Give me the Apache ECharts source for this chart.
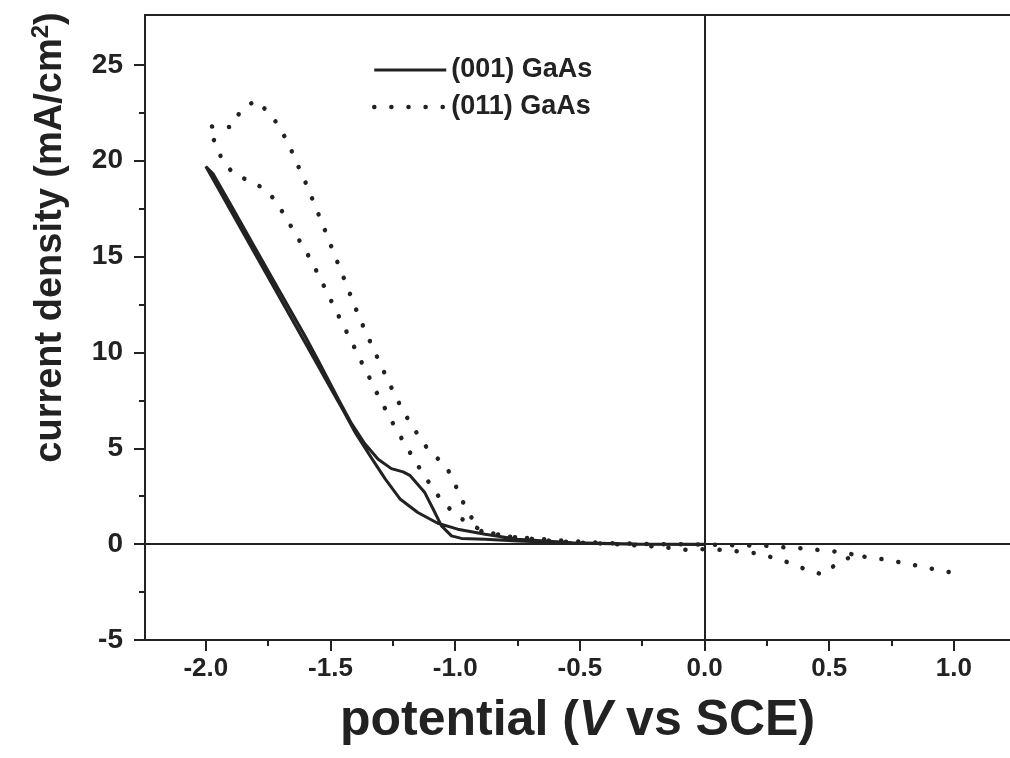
<!DOCTYPE html>
<html>
<head>
<meta charset="utf-8">
<script src="https://cdn.jsdelivr.net/npm/echarts@6/dist/echarts.min.js"></script>
<style>
  html, body { margin: 0; padding: 0; background: #ffffff; }
  #chart { width: 1010px; height: 758px; }
</style>
</head>
<body>
<div id="chart"></div>
<script>
// ---- data ----
const seriesNames = ['(001) GaAs', '(011) GaAs'];

// (001) GaAs: closed loop (smooth branch out, shoulder branch back)
const potential001 = [0.0, -0.27, -0.53, -0.75, -0.88, -0.99, -1.07, -1.15, -1.22, -1.28, -1.336, -1.40, -1.45, -1.50, -1.60, -1.70, -1.80, -1.90, -1.95, -2.0,
  -1.97, -1.90, -1.80, -1.70, -1.60, -1.55, -1.47, -1.416, -1.363, -1.309, -1.256, -1.209, -1.182, -1.122, -1.088, -1.055, -1.015, -0.975, -0.88, -0.75, -0.53, -0.27, 0.0];
const current001 = [0.0, 0.01, 0.07, 0.26, 0.52, 0.78, 1.09, 1.65, 2.34, 3.39, 4.5, 5.8, 7.0, 8.15, 10.46, 12.77, 15.08, 17.39, 18.55, 19.7,
  19.3, 17.7, 15.4, 13.1, 10.8, 9.6, 7.6, 6.3, 5.25, 4.43, 3.94, 3.77, 3.59, 2.69, 1.82, 0.95, 0.43, 0.30, 0.26, 0.17, 0.06, 0.0, -0.02];

// (011) GaAs: dotted loop
const potential011 = [0.589, 0.522, 0.454, 0.387, 0.32, 0.253, 0.1, 0.0, -0.2, -0.4, -0.62, -0.687, -0.754, -0.807, -0.881, -0.944, -1.011, -1.068, -1.116, -1.159,
  -1.20, -1.24, -1.276, -1.312, -1.345, -1.379, -1.412, -1.446, -1.479, -1.513, -1.547, -1.581, -1.621, -1.66, -1.70, -1.748, -1.815, -1.882, -1.932, -1.962,
  -1.988, -1.965, -1.898, -1.858, -1.80, -1.738, -1.695, -1.661, -1.631, -1.601, -1.573, -1.546, -1.519, -1.493, -1.466, -1.439, -1.412, -1.386, -1.356, -1.325,
  -1.294, -1.262, -1.229, -1.192, -1.149, -1.102, -1.039, -1.005, -0.977, -0.941, -0.894, -0.814, -0.755, -0.68, -0.614, -0.5, -0.4, -0.3, -0.205, -0.138,
  -0.071, -0.004, 0.066, 0.135, 0.205, 0.272, 0.339, 0.406, 0.473, 0.541, 0.598, 0.665, 0.736, 0.806, 0.866, 0.933, 0.996];
const current011 = [-0.52, -0.38, -0.3, -0.22, -0.17, -0.09, -0.05, -0.02, 0.0, 0.06, 0.23, 0.30, 0.35, 0.43, 0.66, 1.04, 1.68, 2.52, 3.42, 4.29,
  5.19, 6.06, 6.94, 7.83, 8.71, 9.58, 10.47, 11.34, 12.2, 13.11, 14.01, 14.88, 15.75, 16.61, 17.48, 18.37, 18.92, 19.24, 19.96, 20.89,
  21.74, 21.82, 21.75, 22.66, 23.14, 22.4, 21.53, 20.66, 19.76, 18.89, 18.0, 17.14, 16.27, 15.4, 14.5, 13.63, 12.72, 11.86, 10.99, 10.1,
  9.22, 8.33, 7.45, 6.58, 5.69, 4.81, 4.13, 3.26, 2.4, 1.51, 0.66, 0.47, 0.35, 0.26, 0.17, 0.08, 0.03, -0.05, -0.12, -0.2,
  -0.3, -0.26, -0.3, -0.38, -0.47, -0.69, -0.97, -1.32, -1.58, -0.92, -0.61, -0.69, -0.83, -1.0, -1.16, -1.34, -1.49];

// tick values
const xMajorTicks = [-2.0, -1.5, -1.0, -0.5, 0.0, 0.5, 1.0];
const xMinorTicks = [-1.75, -1.25, -0.75, -0.25, 0.25, 0.75];
const yMajorTicks = [-5, 0, 5, 10, 15, 20, 25];
const yMinorTicks = [-2.5, 2.5, 7.5, 12.5, 17.5, 22.5];

const xRange = [-2.244, 1.225];
const yRange = [-5, 27.6];

// ---- chart ----
const FONT = '"Liberation Sans", Arial, Helvetica, sans-serif';
const INK = '#222222';
const zip = (xs, ys) => xs.map((x, i) => [x, ys[i]]);

const chart = echarts.init(document.getElementById('chart'), null, { renderer: 'canvas' });

const option = {
  animation: false,
  backgroundColor: '#ffffff',
  grid: { left: 145, right: -2, top: 15, bottom: 118, show: false },
  legend: {
    data: seriesNames,
    orient: 'vertical',
    left: 367, top: 50,
    itemWidth: 72, itemHeight: 6, itemGap: 7,
    itemStyle: { opacity: 0 },
    lineStyle: { width: 'inherit' },
    textStyle: { fontFamily: FONT, fontWeight: 'bold', fontSize: 27, color: INK, lineHeight: 30 }
  },
  xAxis: [
    {
      type: 'value', min: xRange[0], max: xRange[1], position: 'bottom',
      axisLine: { show: true, onZero: false, lineStyle: { color: INK, width: 2 } },
      axisTick: { show: true, customValues: xMajorTicks, length: 11, lineStyle: { color: INK, width: 2 } },
      axisLabel: {
        customValues: xMajorTicks, margin: 16,
        formatter: v => Number(v).toFixed(1),
        fontFamily: FONT, fontWeight: 'bold', fontSize: 26, color: INK
      },
      splitLine: { show: false },
      name: '{p|potential (}{i|V}{p| vs SCE)}',
      nameLocation: 'middle', nameGap: 56,
      nameTextStyle: {
        rich: {
          p: { fontFamily: FONT, fontWeight: 'bold', fontSize: 50, color: INK },
          i: { fontFamily: FONT, fontWeight: 'bold', fontStyle: 'italic', fontSize: 50, color: INK }
        }
      }
    },
    {
      type: 'value', min: xRange[0], max: xRange[1], position: 'bottom',
      axisLine: { show: false, onZero: false },
      axisTick: { show: true, customValues: xMinorTicks, length: 6, lineStyle: { color: INK, width: 2 } },
      axisLabel: { show: false },
      splitLine: { show: false }
    },
    {
      type: 'value', min: xRange[0], max: xRange[1], position: 'top',
      axisLine: { show: true, onZero: false, lineStyle: { color: INK, width: 2 } },
      axisTick: { show: false },
      axisLabel: { show: false },
      splitLine: { show: false }
    }
  ],
  yAxis: [
    {
      type: 'value', min: yRange[0], max: yRange[1], position: 'left',
      axisLine: { show: true, onZero: false, lineStyle: { color: INK, width: 2 } },
      axisTick: { show: true, customValues: yMajorTicks, length: 11, lineStyle: { color: INK, width: 2 } },
      axisLabel: {
        customValues: yMajorTicks, margin: 22,
        formatter: v => String(v),
        fontFamily: FONT, fontWeight: 'bold', fontSize: 28, color: INK
      },
      splitLine: { show: false },
      name: '{a|current density (mA/cm}{s|2}{a|)}',
      nameLocation: 'middle', nameGap: 72, nameRotate: 90,
      nameTextStyle: {
        padding: [0, 0, 0, 180],
        rich: {
          a: { fontFamily: FONT, fontWeight: 'bold', fontSize: 38, color: INK, lineHeight: 44 },
          s: { fontFamily: FONT, fontWeight: 'bold', fontSize: 24, color: INK, lineHeight: 24, verticalAlign: 'top' }
        }
      }
    },
    {
      type: 'value', min: yRange[0], max: yRange[1], position: 'left',
      axisLine: { show: false, onZero: false },
      axisTick: { show: true, customValues: yMinorTicks, length: 6, lineStyle: { color: INK, width: 2 } },
      axisLabel: { show: false },
      splitLine: { show: false }
    }
  ],
  series: [
    {
      name: seriesNames[0], type: 'line',
      xAxisIndex: 0, yAxisIndex: 0,
      data: zip(potential001, current001),
      symbol: 'none', showSymbol: false, smooth: false,
      lineStyle: { color: INK, width: 3 },
      itemStyle: { color: INK },
      markLine: {
        silent: true, symbol: 'none', label: { show: false },
        lineStyle: { color: INK, width: 2, type: 'solid' },
        data: [{ xAxis: 0 }, { yAxis: 0 }]
      },
      z: 3
    },
    {
      name: seriesNames[1], type: 'line',
      xAxisIndex: 0, yAxisIndex: 0,
      data: zip(potential011, current011),
      symbol: 'none', showSymbol: false, smooth: false,
      lineStyle: { color: INK, width: 4.5, type: [0.1, 17], cap: 'round' },
      itemStyle: { color: INK },
      z: 2
    }
  ]
};

chart.setOption(option);
</script>
</body>
</html>
